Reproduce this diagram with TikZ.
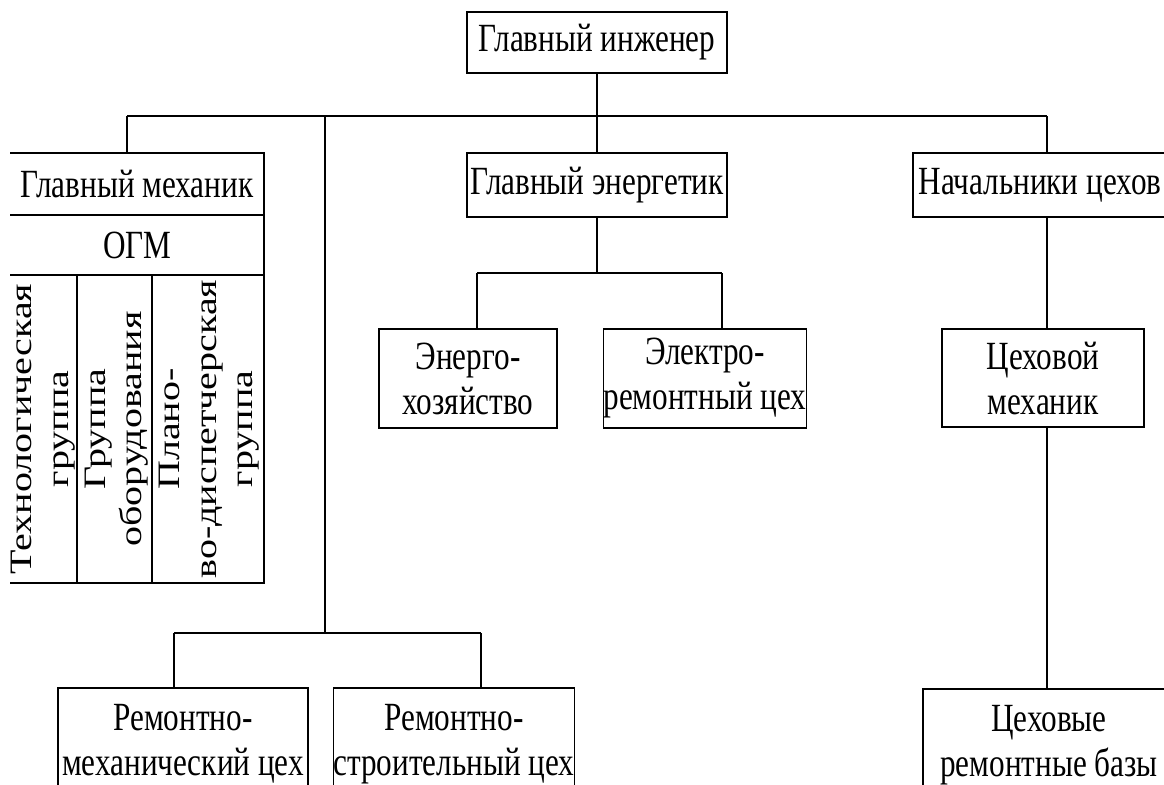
\documentclass[tikz,border=0pt]{standalone}
\usepackage{fontspec}
\setmainfont[FakeStretch=0.78]{Liberation Serif}
\newfontfamily\uprightfont{Liberation Serif}
\usepackage{graphicx}
\newcommand{\upgroup}[1]{\scalebox{1}[0.78]{\uprightfont\fontsize{20}{23.5}\selectfont\begin{tabular}{@{}c@{}}#1\end{tabular}}}
\begin{document}
\begin{tikzpicture}[x=0.5pt,y=-0.5pt,
  line width=0.8pt,
  every node/.style={font=\fontsize{20}{22.5}\selectfont, inner sep=0pt, align=center},
  box/.style={draw, rectangle},
  vtext/.style={rotate=90}]
\useasboundingbox (0,0) rectangle (1164,784);
\clip (0,0) rectangle (1164,784);

% top level
\node[box, minimum width=130pt, minimum height=30.5pt] (gi) at (597,42.5) {Главный инженер};

% second level
\node[minimum width=127pt, minimum height=31pt] (gm) at (137,184) {Главный механик};
\node[minimum width=127pt, minimum height=30pt] (ogm) at (137,245) {ОГМ};
\node[box, minimum width=130pt, minimum height=32pt] (ge) at (597,185) {Главный энергетик};
\node[box, minimum width=137pt, minimum height=32pt] (nc) at (1050,185) {\hspace*{-10pt}Начальники цехов};

% chief mechanic department frame (left edge lies outside the sheet)
\draw (10,153) -- (264,153) -- (264,583) -- (10,583);
\draw (10,215) -- (264,215);
\draw (10,275) -- (264,275);
\draw (77,275) -- (77,583);
\draw (152,275) -- (152,583);

% groups of the department, set vertically
\node[vtext] (tg) at (42.5,429) {\upgroup{Технологическая\\группа}};
\node[vtext] (go) at (116,429) {\upgroup{Группа\\оборудования}};
\node[vtext] (pd) at (209,429) {\upgroup{Плано-\\во-диспетчерская\\группа}};

% third level
\node[box, minimum width=89pt, minimum height=49.5pt] (eh) at (468,378.5) {Энерго-\\хозяйство};
\node[box, minimum width=101pt, minimum height=49.5pt] (er) at (705,378.5) {Электро-\\ремонтный цех};
\node[box, minimum width=101pt, minimum height=49pt] (cm) at (1043,378) {Цеховой\\механик};

% bottom level
\node[box, minimum width=125pt, minimum height=56pt] (rmm) at (183,744) {Ремонтно-\\механический цех};
\node[box, minimum width=106pt, minimum height=56pt] (rms) at (454,744) {Ремонтно-\\строительный цех};
\node[box, minimum width=136pt, minimum height=56pt] (crb) at (1059,745) {\hspace*{-10pt}Цеховые\\\hspace*{-10pt}ремонтные базы};

% bus lines
\coordinate (b1L) at (127,116);
\coordinate (b1M) at (325,116);
\coordinate (b1R) at (1047,116);
\coordinate (b2L) at (174,633);
\coordinate (b2M) at (325,633);
\coordinate (b2R) at (481,633);
\coordinate (b3L) at (477,273);
\coordinate (b3R) at (722,273);

% connectors
\draw (gi.south) -- (ge.north);
\draw (b1L) -- (b1R);
\draw (b1L) -- (b1L |- gm.north);
\draw (b1R) -- (b1R |- nc.north);
\draw (b1M) -- (b2M);
\draw (b2L) -- (b2R);
\draw (b2L) -- (b2L |- rmm.north);
\draw (b2R) -- (b2R |- rms.north);
\draw (ge.south) -- (ge.south |- b3L);
\draw (b3L) -- (b3R);
\draw (b3L) -- (b3L |- eh.north);
\draw (b3R) -- (b3R |- er.north);
\draw (b1R |- nc.south) -- (b1R |- cm.north);
\draw (b1R |- cm.south) -- (b1R |- crb.north);
\end{tikzpicture}
\end{document}
